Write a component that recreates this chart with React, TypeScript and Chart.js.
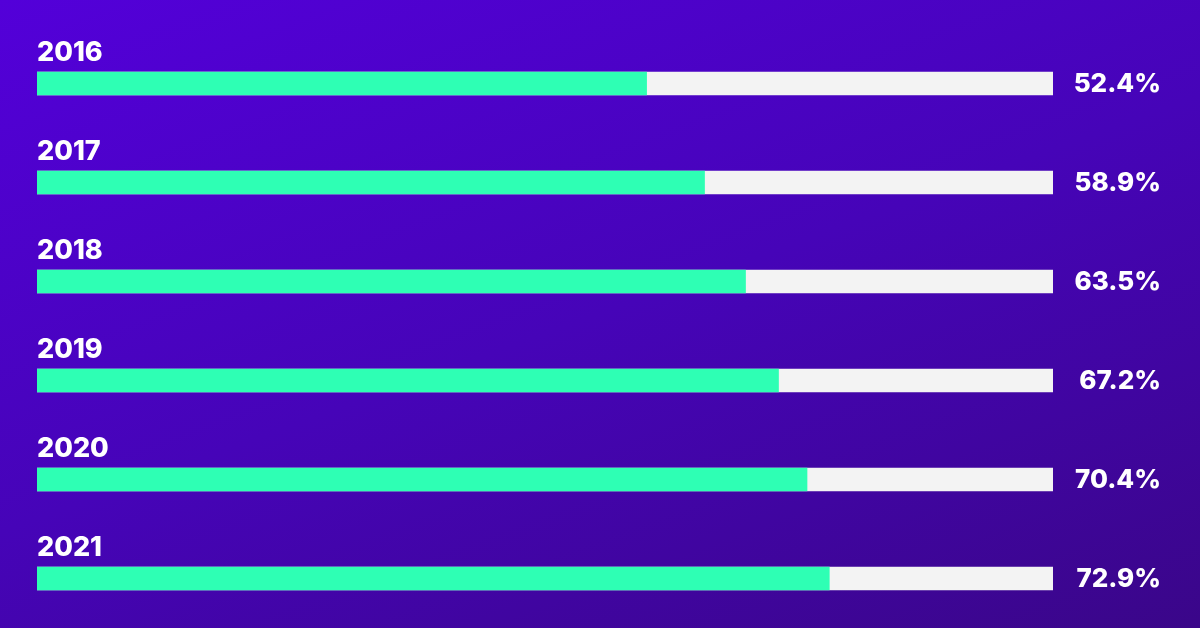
import React, { useEffect, useRef } from "react";
import { Chart, registerables } from "chart.js";

Chart.register(...registerables);

const years = ["2016", "2017", "2018", "2019", "2020", "2021"];
const shares = [52.4, 58.9, 63.5, 67.2, 70.4, 72.9];
const trackMin = -16;
const trackMax = 98;

const labelPlugin = {
  id: "barLabels",
  afterDatasetsDraw(chart: any) {
    const { ctx, scales } = chart;
    const yScale = scales.y;
    const xScale = scales.x;
    ctx.save();
    ctx.fillStyle = "#ffffff";
    years.forEach((yr, i) => {
      const cy = yScale.getPixelForValue(i);
      ctx.font = "800 27px Inter, 'Open Sans', sans-serif";
      ctx.textAlign = "left";
      ctx.textBaseline = "alphabetic";
      ctx.fillText(yr, xScale.getPixelForValue(trackMin), cy - 23);
      ctx.font = "800 26px Inter, 'Open Sans', sans-serif";
      ctx.textAlign = "right";
      ctx.textBaseline = "middle";
      ctx.fillText(shares[i].toFixed(1) + "%", 1161, cy + 1);
    });
    ctx.restore();
  },
};

export default function App() {
  const ref = useRef<HTMLCanvasElement>(null);
  useEffect(() => {
    document.body.style.margin = "0";
    const chart = new Chart(ref.current!, {
      type: "bar",
      data: {
        labels: years,
        datasets: [
          {
            label: "Share",
            data: shares.map((v) => [trackMin, v]) as any,
            backgroundColor: "#2effb4",
            barThickness: 23,
            grouped: false,
          } as any,
          {
            label: "Track",
            data: shares.map(() => [trackMin, trackMax]) as any,
            backgroundColor: "#f3f3f3",
            barThickness: 23,
            grouped: false,
          } as any,
        ],
      },
      options: {
        indexAxis: "y",
        animation: false,
        responsive: false,
        maintainAspectRatio: false,
        layout: { padding: { left: 37, right: 147, top: 34, bottom: 0 } },
        plugins: { legend: { display: false }, tooltip: { enabled: false } },
        scales: {
          x: { display: false, min: trackMin, max: trackMax },
          y: { display: false, offset: true },
        },
      },
      plugins: [labelPlugin],
    });
    return () => chart.destroy();
  }, []);
  return (
    <div
      style={{
        position: "fixed",
        left: 0,
        top: 0,
        width: 1200,
        height: 628,
        background: "linear-gradient(160deg, #5300d9 0%, #4604b8 50%, #3a0689 100%)",
      }}
    >
      <canvas ref={ref} width={1200} height={628} style={{ display: "block" }} />
    </div>
  );
}
